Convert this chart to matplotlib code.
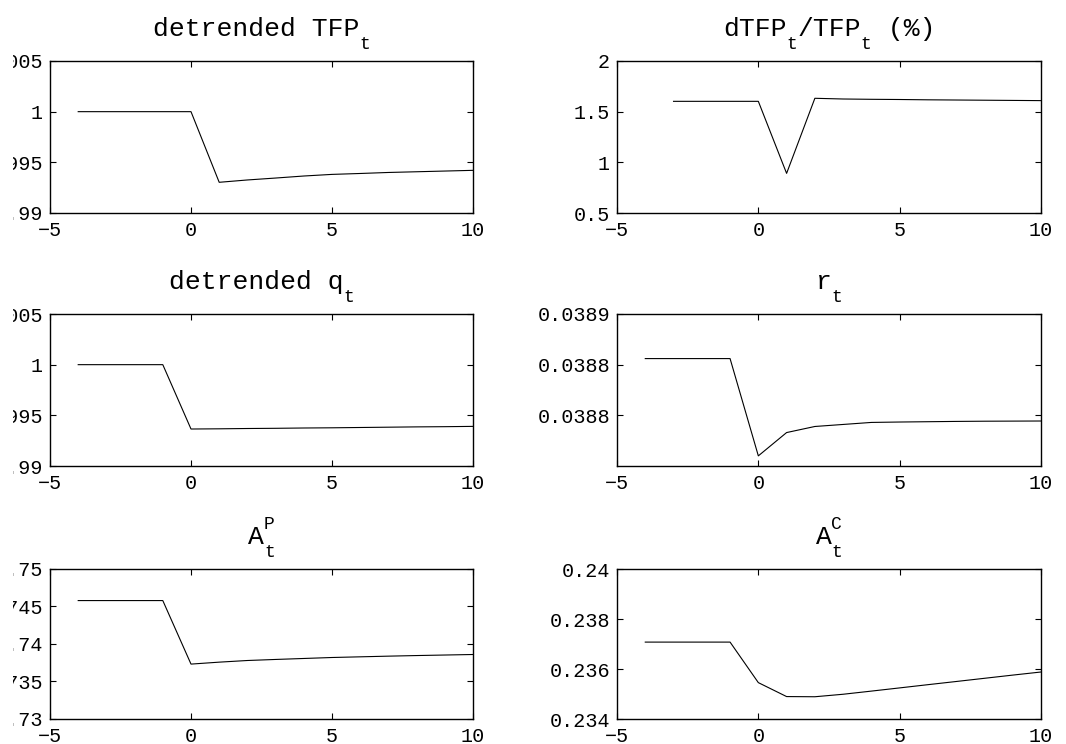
import matplotlib
matplotlib.use("Agg")
import matplotlib.pyplot as plt
from matplotlib.transforms import Bbox

plt.rcParams['font.family'] = ['Liberation Mono', 'DejaVu Sans Mono']

# time axis
t_full = [-4, -3, -2, -1, 0, 1, 2, 3, 4, 5, 6, 7, 8, 9, 10]
t_growth = [-3, -2, -1, 0, 1, 2, 3, 4, 5, 6, 7, 8, 9, 10]

# detrended TFP
tfp = [1.0, 1.0, 1.0, 1.0, 1.0, 0.99303, 0.99326, 0.99345, 0.99365, 0.99381,
       0.99390, 0.99400, 0.99407, 0.99414, 0.99421]
# growth rate of TFP (%)
dtfp = [1.602, 1.602, 1.602, 1.602, 0.891, 1.632, 1.625, 1.622, 1.620, 1.617,
        1.615, 1.613, 1.611, 1.609]
# detrended q
q = [1.0, 1.0, 1.0, 1.0, 0.99365, 0.99367, 0.99370, 0.99372, 0.99375, 0.99377,
     0.99380, 0.99383, 0.99386, 0.99388, 0.99391]
# interest rate
r = [0.038856, 0.038856, 0.038856, 0.038856, 0.038760, 0.038783, 0.038789,
     0.038791, 0.038793, 0.0387934, 0.0387937, 0.038794, 0.0387942, 0.0387943,
     0.0387944]
# A^P
ap = [0.74579, 0.74579, 0.74579, 0.74579, 0.73732, 0.73758, 0.73780, 0.73794,
      0.73807, 0.73820, 0.73829, 0.73838, 0.73846, 0.73853, 0.73860]
# A^C
ac = [0.237076, 0.237076, 0.237076, 0.237076, 0.235455, 0.234897, 0.234890,
      0.234990, 0.235116, 0.235244, 0.235373, 0.235500, 0.235628, 0.235756,
      0.235880]

W, H = 1066, 744
fig = plt.figure(figsize=(W / 100, H / 100), dpi=100)

FS = 19        # title font size
SFS = 13       # sub/superscript size
CW = 0.6       # monospace advance, in em

# the original figure window cut the long y labels at the left edge
label_clip = Bbox.from_extents(13, 0, W, H)


def make_ax(x0, x1, top, bottom):
    return fig.add_axes([x0 / W, 1 - bottom / H, (x1 - x0) / W, (bottom - top) / H])


def title(ax, parts):
    # parts: (main text, subscript, superscript), MATLAB tex style
    total = 0
    for main, sub, sup in parts:
        total += len(main) * CW * FS + max(len(sub or ''), len(sup or '')) * CW * SFS
    x = -total / 2
    for main, sub, sup in parts:
        ax.annotate(main, (0.5, 1), xycoords='axes fraction', xytext=(x, 18),
                    textcoords='offset points', ha='left', va='baseline',
                    fontsize=FS)
        x += len(main) * CW * FS
        if sub:
            ax.annotate(sub, (0.5, 1), xycoords='axes fraction', xytext=(x, 8.5),
                        textcoords='offset points', ha='left', va='baseline',
                        fontsize=SFS)
        if sup:
            ax.annotate(sup, (0.5, 1), xycoords='axes fraction', xytext=(x, 29),
                        textcoords='offset points', ha='left', va='baseline',
                        fontsize=SFS)
        x += max(len(sub or ''), len(sup or '')) * CW * SFS


def style(ax, yticks, ylabels, ylim):
    ax.set_xlim(-5, 10)
    ax.set_xticks([-5, 0, 5, 10])
    ax.set_xticklabels(['\u22125', '0', '5', '10'])
    ax.set_ylim(*ylim)
    ax.set_yticks(yticks)
    ax.set_yticklabels(ylabels)
    ax.tick_params(direction='in', length=4, width=0.8, top=True, right=True,
                   labelsize=14.5, pad=5)
    ax.tick_params(axis='x', pad=6)
    for s in ax.spines.values():
        s.set_linewidth(1.0)
    for lab in ax.get_yticklabels():
        lab.set_clip_box(label_clip)
        lab.set_clip_on(True)


L0, L1 = 50, 473
R0, R1 = 617, 1041

ax = make_ax(L0, L1, 61, 213)
ax.plot(t_full, tfp, color='k', lw=0.8)
style(ax, [0.99, 0.995, 1.0, 1.005], ['0.99', '0.995', '1', '1.005'], (0.99, 1.005))
title(ax, [('detrended TFP', 't', None)])

ax = make_ax(R0, R1, 61, 213)
ax.plot(t_growth, dtfp, color='k', lw=0.8)
style(ax, [0.5, 1, 1.5, 2], ['0.5', '1', '1.5', '2'], (0.5, 2))
title(ax, [('dTFP', 't', None), ('/TFP', 't', None), (' (%)', None, None)])

ax = make_ax(L0, L1, 314, 466)
ax.plot(t_full, q, color='k', lw=0.8)
style(ax, [0.99, 0.995, 1.0, 1.005], ['0.99', '0.995', '1', '1.005'], (0.99, 1.005))
title(ax, [('detrended q', 't', None)])

ax = make_ax(R0, R1, 314, 466)
ax.plot(t_full, r, color='k', lw=0.8)
style(ax, [0.03880, 0.03885, 0.03890], ['0.0388', '0.0388', '0.0389'],
      (0.03875, 0.03890))
title(ax, [('r', 't', None)])

ax = make_ax(L0, L1, 569, 719)
ax.plot(t_full, ap, color='k', lw=0.8)
style(ax, [0.73, 0.735, 0.74, 0.745, 0.75],
      ['0.73', '0.735', '0.74', '0.745', '0.75'], (0.73, 0.75))
title(ax, [('A', 't', 'P')])

ax = make_ax(R0, R1, 569, 719)
ax.plot(t_full, ac, color='k', lw=0.8)
style(ax, [0.234, 0.236, 0.238, 0.24], ['0.234', '0.236', '0.238', '0.24'],
      (0.234, 0.24))
title(ax, [('A', 't', 'C')])

fig.savefig('out.png', dpi=100)
